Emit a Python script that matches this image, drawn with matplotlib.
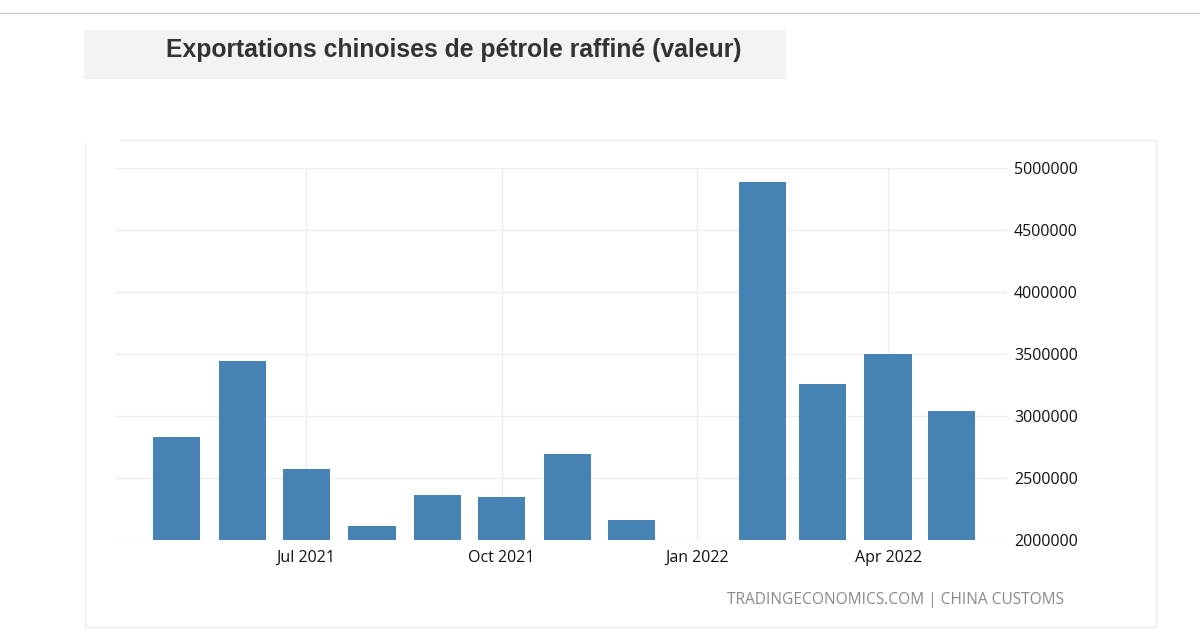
#!/usr/bin/env python3
"""
Chinese refined petroleum exports (value), monthly bars
"""

import datetime as dt
import matplotlib
matplotlib.use("Agg")
import matplotlib.pyplot as plt
import matplotlib.dates as mdates
from matplotlib.patches import Rectangle
from matplotlib.lines import Line2D

# Data (Jan 2022 not reported)
months = [
    dt.date(2021, 5, 1), dt.date(2021, 6, 1), dt.date(2021, 7, 1),
    dt.date(2021, 8, 1), dt.date(2021, 9, 1), dt.date(2021, 10, 1),
    dt.date(2021, 11, 1), dt.date(2021, 12, 1),
    dt.date(2022, 2, 1), dt.date(2022, 3, 1), dt.date(2022, 4, 1),
    dt.date(2022, 5, 1),
]
values = [2830000, 3440000, 2570000, 2110000, 2360000, 2350000,
          2690000, 2160000, 4890000, 3260000, 3500000, 3040000]

tick_dates = [dt.date(2021, 7, 1), dt.date(2021, 10, 1),
              dt.date(2022, 1, 1), dt.date(2022, 4, 1)]
tick_labels = ['Jul 2021', 'Oct 2021', 'Jan 2022', 'Apr 2022']
y_ticks = [2000000, 2500000, 3000000, 3500000, 4000000, 4500000, 5000000]

title = 'Exportations chinoises de pétrole raffiné (valeur)'
source = 'TRADINGECONOMICS.COM | CHINA CUSTOMS'

W, H = 1200, 640


def fx(px):
    return px / W


def fy(py):
    return 1 - py / H


fig = plt.figure(figsize=(12, 6.4), dpi=100)
fig.patch.set_facecolor('white')

# Page decorations
fig.add_artist(Line2D([0, 1], [fy(13), fy(13)], color='#c8c8c8', linewidth=1))
fig.add_artist(Rectangle((fx(84), fy(79)), fx(786) - fx(84), fy(30) - fy(79),
                         facecolor='#f3f3f3', edgecolor='none'))
fig.text(fx(454), fy(50), title, ha='center', va='center',
         fontsize=17.8, fontweight='bold', color='#333333',
         family='Liberation Sans')

# Chart frame
frame = '#ebebeb'
fig.add_artist(Line2D([fx(120), fx(1157)], [fy(140), fy(140)], color=frame, linewidth=1))
fig.add_artist(Line2D([fx(85), fx(85)], [fy(143), fy(627)], color=frame, linewidth=1))
fig.add_artist(Line2D([fx(1156), fx(1156)], [fy(140), fy(627)], color=frame, linewidth=1))
fig.add_artist(Line2D([fx(85), fx(1156)], [fy(627), fy(627)], color=frame, linewidth=1))

ax = fig.add_axes([fx(115), fy(540), fx(1007) - fx(115), fy(168) - fy(540)])

bar_dates = mdates.date2num(months)
ax.bar(bar_dates, values, width=22.2, color='#4682b4', zorder=3)

ax.set_xlim(mdates.date2num(dt.date(2021, 4, 2)), mdates.date2num(dt.date(2022, 5, 27)))
ax.set_ylim(2000000, 5000000)

ax.set_xticks(mdates.date2num(tick_dates))
ax.set_xticklabels(tick_labels)
ax.set_yticks(y_ticks)
ax.set_yticklabels([str(v) for v in y_ticks])
ax.yaxis.tick_right()

for lab in ax.get_xticklabels() + ax.get_yticklabels():
    lab.set_family('Open Sans')
    lab.set_fontsize(11.5)
    lab.set_color('#111111')

ax.tick_params(axis='both', length=0)
ax.tick_params(axis='x', pad=7)
ax.tick_params(axis='y', pad=5)

ax.grid(True, color='#ededed', linewidth=1, zorder=0)
for s in ax.spines.values():
    s.set_visible(False)

fig.text(fx(1064), fy(600), source, ha='right', va='center',
         fontsize=11.2, color='#8a8a8a', family='Open Sans')

plt.savefig('out.png', dpi=100)
plt.close()
